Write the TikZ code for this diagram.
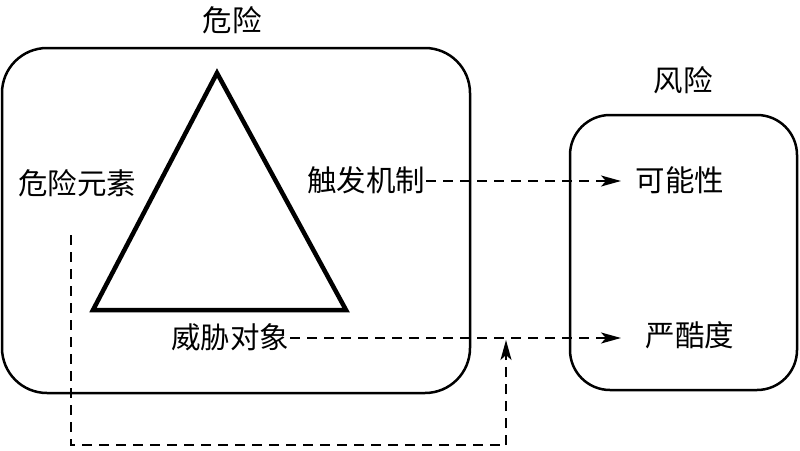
\documentclass[tikz,border=0pt]{standalone}
\usepackage{fontspec}
\newfontfamily\cjk{Noto Sans CJK SC}
\usetikzlibrary{arrows.meta}
\begin{document}
\begin{tikzpicture}[x=1pt,y=-1pt,
  lbl/.style={font=\cjk\fontsize{29.5}{31}\selectfont, inner sep=1pt},
  roundbox/.style={draw, line width=2.5pt},
  dashline/.style={dash pattern=on 10pt off 7pt, line width=2pt},
  dasharrow/.style={dashline, -{Stealth[length=20pt,width=11pt,inset=5pt]}}]
\useasboundingbox (0,0) rectangle (800,450);
\node[roundbox, rounded corners=45pt, minimum width=468pt, minimum height=345pt] (hbox) at (236,220.5) {};
\node[roundbox, rounded corners=40pt, minimum width=227pt, minimum height=275pt] (rbox) at (683.5,252.5) {};
\draw[line width=4.5pt, line join=miter] (217,73) -- (93,310) -- (346,310) -- cycle;
\node[lbl] (t1) at (232,20) {危险};
\node[lbl] (t2) at (683,80) {风险};
\node[lbl] (e) at (77,183) {危险元素};
\node[lbl] (t) at (366,180) {触发机制};
\node[lbl] (p) at (680,180) {可能性};
\node[lbl] (w) at (230,337) {威胁对象};
\node[lbl] (s) at (690,335) {严酷度};
\coordinate (e1) at (71,235);
\coordinate (e2) at (71,445);
\coordinate (e3) at (506,445);
\coordinate (e4) at (506,340);
\coordinate (pa) at (621,181);
\coordinate (sa) at (621,338);
\draw[dasharrow] (t.east |- pa) -- (pa);
\draw[dasharrow] (w.east |- sa) -- (sa);
\draw[dashline] (e1) -- (e2) -- (e3);
\draw[dasharrow] (e3) -- (e4);
\end{tikzpicture}
\end{document}
